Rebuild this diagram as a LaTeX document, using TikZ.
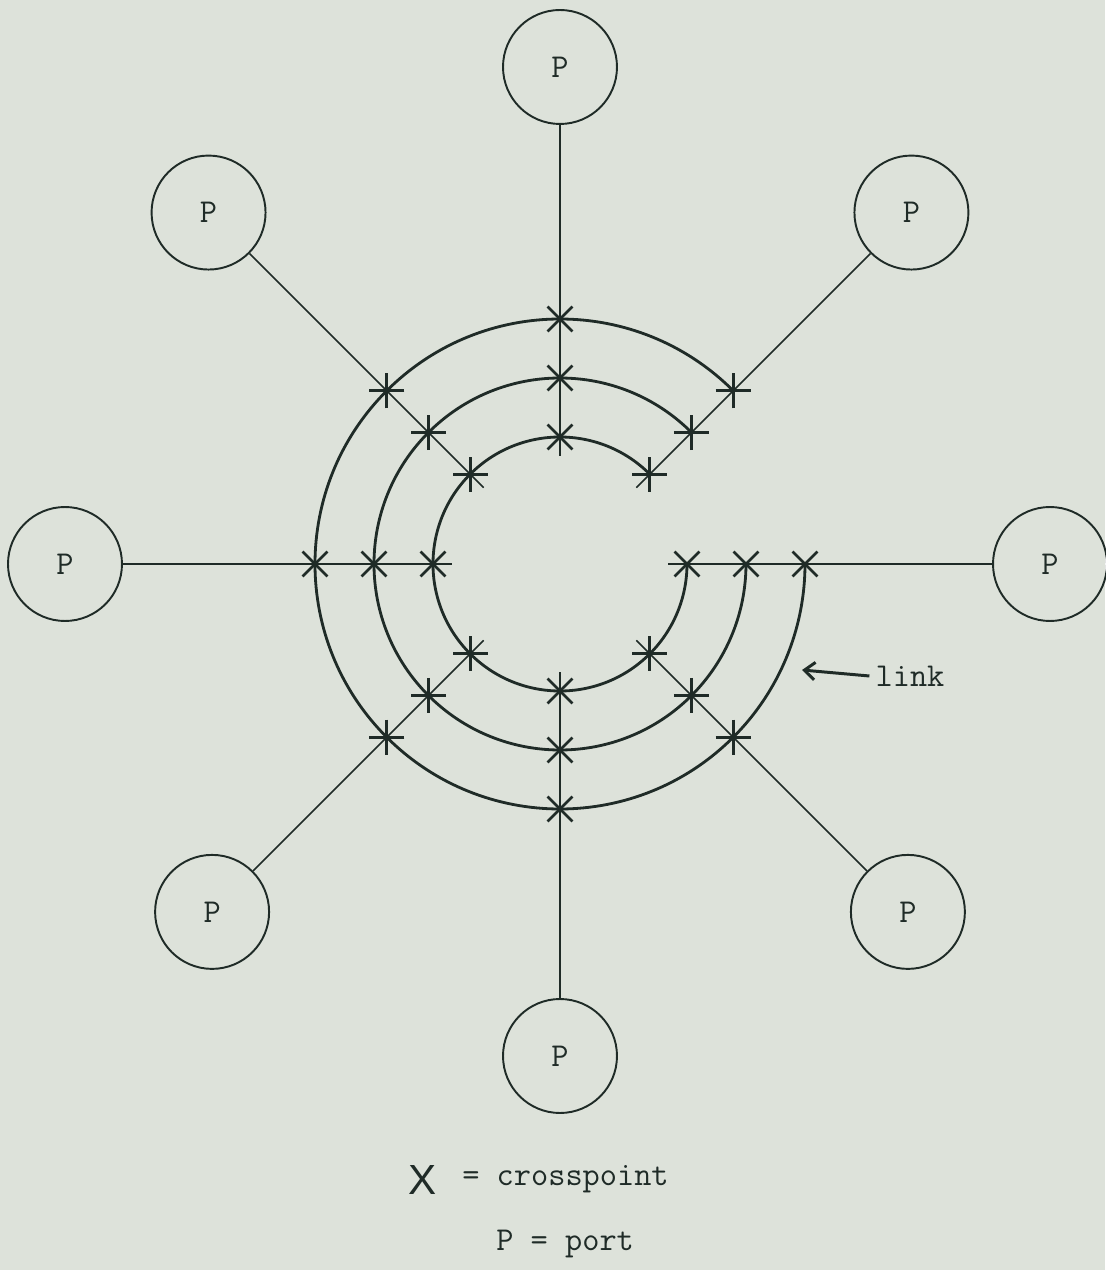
\documentclass[tikz,border=0pt]{standalone}
\usepackage{fontspec}
\setsansfont{Liberation Sans}
\usetikzlibrary{arrows.meta, shapes.misc, positioning}
\definecolor{mink}{HTML}{1F2B27}
\definecolor{mpaper}{HTML}{DDE2DA}

\begin{document}
\begin{tikzpicture}[
    x=0.02cm, y=0.02cm,
    every node/.style={font=\fontsize{19}{22}\selectfont\ttfamily, text=mink},
    port/.style={circle, draw=mink, line width=1.1pt, minimum size=2.28cm, inner sep=0pt},
    xpt/.style={cross out, draw=mink, line width=1.6pt, minimum size=0.44cm, inner sep=0pt},
    spoke/.style={draw=mink, line width=0.9pt},
    link/.style={draw=mink, line width=1.6pt},
    arr/.style={-{Straight Barb[length=6pt, width=10pt]}, line width=1.7pt, mink},
    legend/.style={anchor=base west, inner sep=0pt},
  ]
  \fill[mpaper] (-560,-706) rectangle (545,564);
  \useasboundingbox (-560,-706) rectangle (545,564);

  % ports and spokes
  \foreach \a/\d in {0/490,45/497,90/497,135/497,180/495,225/492,270/492,315/492} {
    \node[port] (p\a) at (\a:\d) {P};
    \coordinate (e\a) at (\a:108);
    \draw[spoke] (p\a) -- (e\a);
  }

  % crosspoints on every spoke
  \foreach \a in {0,45,...,315}
    \foreach \r in {127,186,245}
      \node[xpt, rotate=\a] (x\a-\r) at (\a:\r) {};

  % links: three open rings
  \foreach \r in {127,186,245}
    \draw[link] (x45-\r.center) arc[start angle=45, end angle=360, radius=\r];

  \node (lbl) at (350,-112) {link};
  \coordinate (ltip) at (242,-106);
  \draw[arr] (lbl.west) -- (ltip);

  % legend
  \node[font=\fontsize{24}{24}\selectfont\sffamily] (xsym) at (-137,-616) {X};
  \node[legend] (xdef) at (-98,-621) {= crosspoint};
  \node[legend] (pdef) at (-64,-686) {P = port};
\end{tikzpicture}
\end{document}
